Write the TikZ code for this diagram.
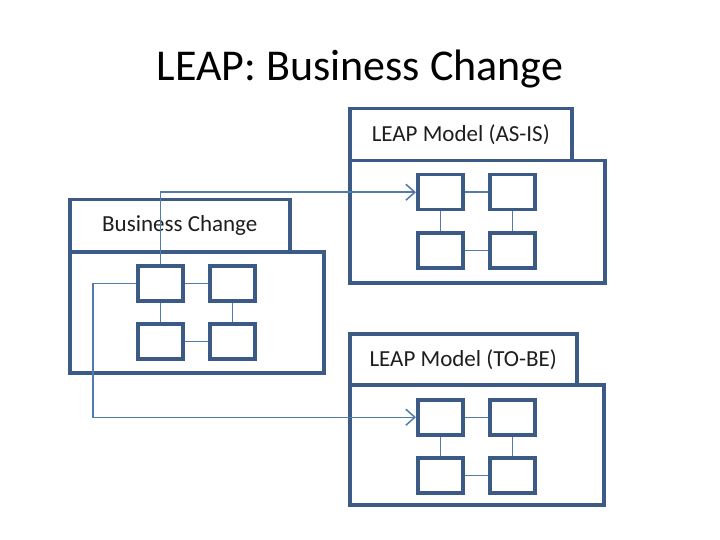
\documentclass[tikz,border=0pt]{standalone}
\usepackage{fontspec}
\setmainfont{Carlito}
\usetikzlibrary{arrows.meta}
\definecolor{boxblue}{RGB}{60,90,134}
\definecolor{linkblue}{RGB}{82,122,172}
\definecolor{labelgrey}{RGB}{30,30,30}

\begin{document}
\begin{tikzpicture}[x=1pt,y=-1pt,
  tab/.style={draw=boxblue,line width=3.5pt,fill=white,anchor=north west,inner sep=0pt,
              font=\fontsize{23}{25}\selectfont,text=labelgrey},
  body/.style={draw=boxblue,line width=3.5pt,fill=white,anchor=north west,inner sep=0pt},
  cell/.style={draw=boxblue,line width=3.5pt,fill=white,anchor=north west,inner sep=0pt,
               minimum width=45pt,minimum height=35pt},
  link/.style={draw=linkblue,line width=1.5pt},
  ar/.style={-{Straight Barb[length=9pt,width=16pt,line width=1.5pt]},linkblue,line width=1.5pt}]
\useasboundingbox (0,0) rectangle (720,540);

\node[font=\fontsize{44}{48}\selectfont] (title) at (360,69) {LEAP: Business Change};

% the three packages: a body with its tab on top
\node[body,minimum width=254pt,minimum height=121pt] (bc-body) at (68,250) {};
\node[tab,minimum width=220pt,minimum height=52pt] (bc-tab) at (68,198) {Business Change};
\node[body,minimum width=255pt,minimum height=122pt] (asis-body) at (348,159) {};
\node[tab,minimum width=222pt,minimum height=52pt] (asis-tab) at (348,107) {LEAP Model (AS-IS)};
\node[body,minimum width=254pt,minimum height=120pt] (tobe-body) at (348,383) {};
\node[tab,minimum width=227pt,minimum height=51pt] (tobe-tab) at (348,332) {LEAP Model (TO-BE)};

% four cells in each package, linked round the square
\foreach \p/\x/\y in {bc/136/264,asis/416/173,tobe/416/398} {
  \node[cell] (\p-a) at (\x,\y) {};
  \node[cell] (\p-b) at (\x+72,\y) {};
  \node[cell] (\p-c) at (\x,\y+58) {};
  \node[cell] (\p-d) at (\x+72,\y+58) {};
  \draw[link] (\p-a) -- (\p-b);
  \draw[link] (\p-a) -- (\p-c);
  \draw[link] (\p-b) -- (\p-d);
  \draw[link] (\p-c) -- (\p-d);
}

\draw[ar] (bc-a.north) |- (asis-a.west);
\draw[ar] (bc-a.west) -- ++(-43,0) |- (tobe-a.west);
\end{tikzpicture}
\end{document}
